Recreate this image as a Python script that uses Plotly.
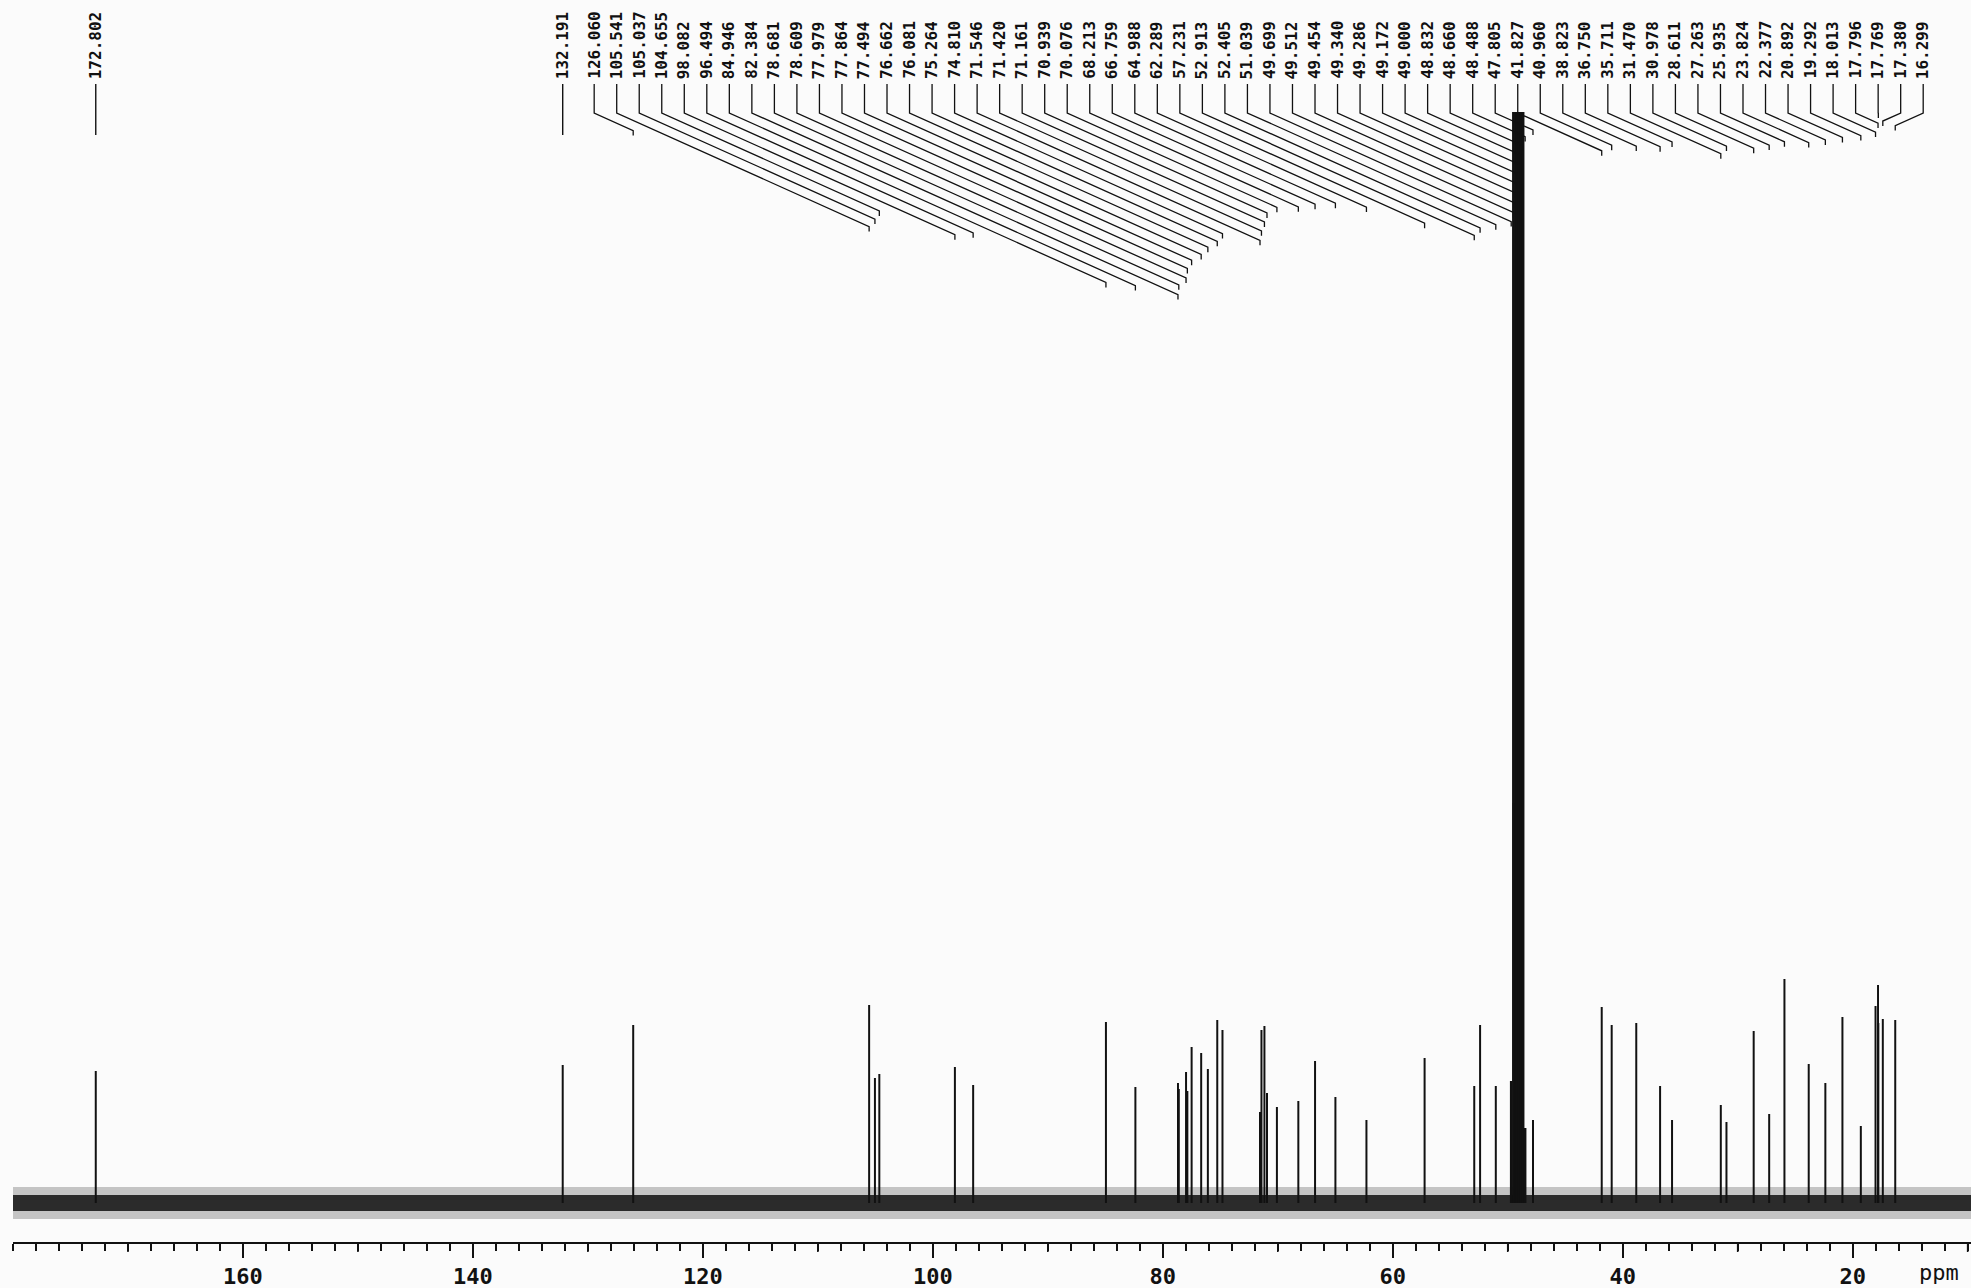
import plotly.graph_objects as go

# ---- 13C NMR peak table: chemical shift (ppm) and peak height (baseline = 0) ----
shifts = [
    172.802, 132.191, 126.060, 105.541, 105.037, 104.655, 98.082, 96.494,
    84.946, 82.384, 78.681, 78.609, 77.979, 77.864, 77.494, 76.662, 76.081,
    75.264, 74.810, 71.546, 71.420, 71.161, 70.939, 70.076, 68.213, 66.759,
    64.988, 62.289, 57.231, 52.913, 52.405, 51.039,
    49.699, 49.512, 49.454, 49.340, 49.286, 49.172, 49.000, 48.832, 48.660, 48.488,
    47.805, 41.827, 40.960, 38.823, 36.750, 35.711, 31.470, 30.978, 28.611,
    27.263, 25.935, 23.824, 22.377, 20.892, 19.292, 18.013, 17.796, 17.769,
    17.380, 16.299,
]
heights = [
    132, 138, 178, 198, 125, 129, 136, 118,
    181, 116, 120, 114, 131, 112, 156, 150, 134,
    183, 173, 91, 173, 177, 110, 96, 102, 142,
    106, 83, 145, 117, 178, 117,
    122, 1500, 400, 1500, 400, 1500, 1500, 1500, 1500, 75,
    83, 196, 178, 180, 117, 83, 98, 81, 172,
    89, 224, 139, 120, 186, 77, 197, 218, 180,
    184, 183,
]

# solvent (CD3OD) multiplet lines
solvent_shifts = [49.699, 49.512, 49.454, 49.340, 49.286, 49.172, 49.000, 48.832, 48.660, 48.488]

# peak labels: the two isolated ones sit right over their peaks, the rest fan out
straight_labels = [172.802, 132.191]
fanned_labels = [
    126.060, 105.541, 105.037, 104.655, 98.082, 96.494, 84.946, 82.384,
    78.681, 78.609, 77.979, 77.864, 77.494, 76.662, 76.081, 75.264, 74.810,
    71.546, 71.420, 71.161, 70.939, 70.076, 68.213, 66.759, 64.988, 62.289,
    57.231, 52.913, 52.405, 51.039, 49.699, 49.512, 49.454, 49.340, 49.286,
    49.172, 49.000, 48.832, 48.660, 48.488, 47.805, 41.827, 40.960, 38.823,
    36.750, 35.711, 31.470, 30.978, 28.611, 27.263, 25.935, 23.824, 22.377,
    20.892, 19.292, 18.013, 17.796, 17.769, 17.380, 16.299,
]

# spectral window and axis ticks (ppm)
sweep = [180.0, 9.71]
major_ticks = [160, 140, 120, 100, 80, 60, 40, 20]
mid_ticks = [170, 150, 130, 110, 90, 70, 50, 30, 10]

# baseline noise level (same units as peak heights)
noise_core = 8
noise_halo = 16

# ---- page geometry ----
W, H = 1971, 1288
PLOT_L, PLOT_R = 13, 1971
PLOT_T, PLOT_B = 112, 1242
Y_RANGE = [-39, 1091]
PX_PER_PPM = (PLOT_R - PLOT_L) / (sweep[0] - sweep[1])
INK = "#111111"


def py(y_px):
    """page pixel row -> paper y"""
    return (PLOT_B - y_px) / (PLOT_B - PLOT_T)


fig = go.Figure()

# baseline noise band
fig.add_trace(go.Scatter(
    x=[sweep[0], sweep[1], sweep[1], sweep[0]],
    y=[-noise_halo, -noise_halo, noise_halo, noise_halo],
    fill="toself", fillcolor="rgba(0,0,0,0.22)", line=dict(width=0),
    mode="lines", hoverinfo="skip", showlegend=False))
fig.add_trace(go.Scatter(
    x=[sweep[0], sweep[1], sweep[1], sweep[0]],
    y=[-noise_core, -noise_core, noise_core, noise_core],
    fill="toself", fillcolor="#2b2b2b", line=dict(width=0),
    mode="lines", hoverinfo="skip", showlegend=False))

# peaks as stick lines
px_, py_ = [], []
sx, sy = [], []
for s, h in zip(shifts, heights):
    if s in solvent_shifts:
        sx += [s, s, None]
        sy += [0, h, None]
    else:
        px_ += [s, s, None]
        py_ += [0, h, None]
fig.add_trace(go.Scatter(x=px_, y=py_, mode="lines",
                         line=dict(color=INK, width=2), showlegend=False))
fig.add_trace(go.Scatter(x=sx, y=sy, mode="lines",
                         line=dict(color=INK, width=2.6), showlegend=False))

shapes = []
annotations = []
label_font = dict(family="DejaVu Sans Mono", size=16, color=INK, weight="bold")
TEXT_BOTTOM = 81
STUB_TOP = 84
KNEE = 113
SLOPE = 0.45

for v in straight_labels:
    shapes.append(dict(type="line", xref="x", yref="paper", x0=v, x1=v,
                       y0=py(STUB_TOP), y1=py(135),
                       line=dict(color=INK, width=1.4)))
    annotations.append(dict(text=f"{v:.3f}", x=v, xref="x", y=py(TEXT_BOTTOM), yref="paper",
                            xanchor="center", yanchor="bottom", textangle=-90,
                            showarrow=False, font=label_font))

first_label_ppm = 129.454
label_step = 1.9591
for i, v in enumerate(fanned_labels):
    lx = first_label_ppm - i * label_step
    dx_px = abs(lx - v) * PX_PER_PPM
    y_end = KNEE + SLOPE * dx_px
    path = (f"M {lx},{py(STUB_TOP)} L {lx},{py(KNEE)} "
            f"L {v},{py(y_end)} L {v},{py(y_end + 5)}")
    shapes.append(dict(type="path", xref="x", yref="paper", path=path,
                       line=dict(color=INK, width=1.3)))
    annotations.append(dict(text=f"{v:.3f}", x=lx, xref="x", y=py(TEXT_BOTTOM), yref="paper",
                            xanchor="center", yanchor="bottom", textangle=-90,
                            showarrow=False, font=label_font))

# 10-ppm ticks, a little longer than the 2-ppm minor ticks
for t in mid_ticks:
    shapes.append(dict(type="line", xref="x", yref="paper", x0=t, x1=t,
                       y0=0, y1=py(PLOT_B + 10), line=dict(color=INK, width=1.6)))

tick_font = dict(family="DejaVu Sans Mono", size=22, color=INK, weight="bold")
annotations.append(dict(text="ppm", x=12.5, xref="x", y=py(1272), yref="paper",
                        xanchor="center", yanchor="middle", showarrow=False,
                        font=dict(family="DejaVu Sans Mono", size=22, color=INK)))

fig.update_layout(
    width=W, height=H,
    margin=dict(l=PLOT_L, r=W - PLOT_R, t=PLOT_T, b=H - PLOT_B, pad=0),
    paper_bgcolor="#fbfbfb", plot_bgcolor="#fbfbfb",
    shapes=shapes, annotations=annotations,
    showlegend=False,
    xaxis=dict(
        range=sweep, showgrid=False, zeroline=False,
        showline=True, linecolor=INK, linewidth=2,
        tickmode="array", tickvals=major_ticks,
        ticktext=[str(t) for t in major_ticks],
        ticks="outside", ticklen=14, tickwidth=2, tickcolor=INK,
        ticklabelstandoff=0, tickfont=tick_font,
        minor=dict(tickmode="linear", tick0=0, dtick=2, ticks="outside",
                   ticklen=7, tickwidth=1.5, tickcolor=INK, showgrid=False),
    ),
    yaxis=dict(range=Y_RANGE, visible=False, fixedrange=True),
)

fig.write_html("out.html")
